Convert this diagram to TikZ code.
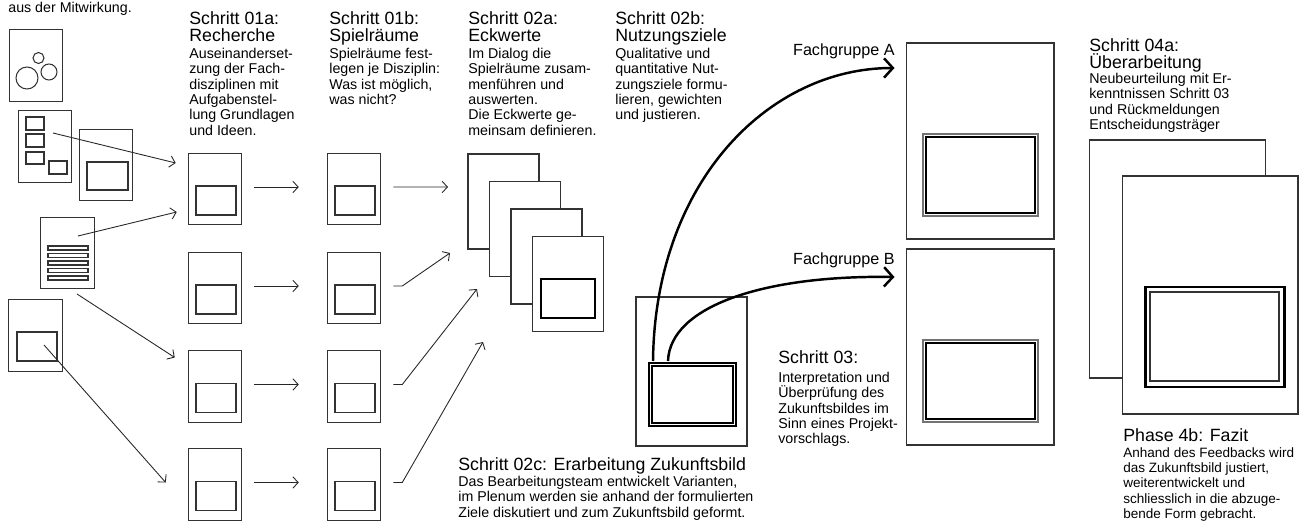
\documentclass[tikz,border=0pt]{standalone}
\usepackage{fontspec}
\setmainfont{Liberation Sans}
\usetikzlibrary{arrows.meta,positioning}

\tikzset{
  linie/.style={draw=black!80, line width=0.6pt},
  blatt/.style={linie, fill=white, inner sep=0pt, minimum width=1.07cm, minimum height=1.43cm},
  stapel/.style={blatt, minimum width=1.42cm, minimum height=1.9cm},
  rahmen/.style={blatt, minimum width=2.22cm, minimum height=2.98cm},
  gross/.style={blatt, minimum width=2.96cm, minimum height=3.92cm},
  fazit/.style={blatt, minimum width=3.52cm, minimum height=4.76cm},
  pfeil/.style={draw=black!85, line width=0.5pt, -{Straight Barb[length=3pt,width=6.5pt]}},
  bogen/.style={draw=black, line width=1.4pt, -{Straight Barb[length=5pt,width=11pt]}},
  kopf/.style={font=\fontsize{10.1}{9.7}\selectfont, align=left, inner sep=0pt, anchor=north west},
  notiz/.style={font=\fontsize{8.1}{8.7}\selectfont, align=left, inner sep=0pt, anchor=north west},
  gruppe/.style={font=\fontsize{9.2}{10}\selectfont, inner sep=0pt, anchor=north east}
}

\begin{document}
\begin{tikzpicture}[x=0.02cm,y=-0.02cm]
\useasboundingbox (0,0) rectangle (1300,523);

% Unterlagen aus der Mitwirkung
\node[notiz] (mit) at (8,2) {aus der Mitwirkung.};
\node[blatt] (d1) at (36,65.5) {};
\draw[linie] ([shift={(2.5,-7.5)}]d1.center) circle (5.5)
  ([shift={(13,6.5)}]d1.center) circle (8)
  ([shift={(-9,12.5)}]d1.center) circle (11);
\node[blatt] (d2) at (45,146.5) {};
\draw[linie] ([shift={(-19,-29.5)}]d2.center) rectangle ([shift={(-1,-16.5)}]d2.center);
\draw[linie] ([shift={(-19,-12.5)}]d2.center) rectangle ([shift={(-1,0.5)}]d2.center);
\draw[linie] ([shift={(-19,5.5)}]d2.center) rectangle ([shift={(-1,17.5)}]d2.center);
\draw[linie] ([shift={(4,14.5)}]d2.center) rectangle ([shift={(22,27.5)}]d2.center);
\node[blatt] (d3) at (106,165) {};
\draw[linie] ([shift={(-19,-3)}]d3.center) rectangle ([shift={(22,25)}]d3.center);
\node[blatt] (d4) at (67.5,253) {};
\foreach \y in {-7,0.5,8,15.5,23}
  \draw[linie] ([shift={(-19.5,\y)}]d4.center) rectangle ([shift={(20.5,\y+4)}]d4.center);
\node[blatt] (d5) at (35.5,335.5) {};
\draw[linie] ([shift={(-18.5,-3.5)}]d5.center) rectangle ([shift={(21.5,25.5)}]d5.center);

% Schritt 01a und 01b
\foreach \r/\y in {1/189,2/288,3/386.5,4/484.5} {
  \node[blatt] (a\r) at (215,\y) {};
  \node[blatt] (b\r) at (354,\y) {};
  \draw[linie] ([shift={(-19,-3)}]a\r.center) rectangle ([shift={(21,26)}]a\r.center);
  \draw[linie] ([shift={(-19,-3)}]b\r.center) rectangle ([shift={(21,26)}]b\r.center);
  \draw[pfeil] ([xshift=0.24cm,yshift=0.04cm]a\r.east) -- ([xshift=-0.56cm,yshift=0.04cm]b\r.west);
}

\draw[pfeil] ([shift={(8,-13.5)}]d2.center) -- ([shift={(-12,-26)}]a1.west);
\draw[pfeil] ([shift={(10.5,-17)}]d4.center) -- ([shift={(-11,23)}]a1.west);
\draw[pfeil] ([shift={(9.5,41)}]d4.center) -- ([shift={(-13,-29)}]a3.west);
\draw[pfeil] ([shift={(8.5,9.5)}]d5.center) -- ([shift={(-22,-2)}]a4.west);

% Schritt 02a
\foreach \i/\x/\y in {1/503.5/201.5,2/525/229,3/546.5/256.5,4/568/284}
  \node[stapel] (p\i) at (\x,\y) {};
\draw[draw=black, line width=1.2pt] ([shift={(-27,-5)}]p4.center) rectangle ([shift={(27,34)}]p4.center);

\coordinate (e1) at (448,187);
\coordinate (e2) at (450,253);
\coordinate (e3) at (477,289);
\coordinate (e4) at (483,342);
\draw[pfeil] ([xshift=0.24cm,yshift=0.04cm]b1.east) -- (e1);
\foreach \r in {2,3,4}
  \draw[pfeil] ([xshift=0.24cm,yshift=0.04cm]b\r.east) -- ++(9,0) -- (e\r);

% Schritt 02c
\node[rahmen] (z) at (691.5,371.5) {};
\draw[draw=black, line width=0.7pt] ([shift={(-42.5,-8.5)}]z.center) rectangle ([shift={(44.5,54.5)}]z.center);
\draw[draw=black, line width=0.6pt] ([shift={(-39.5,-5.5)}]z.center) rectangle ([shift={(41.5,51.5)}]z.center);

% Schritt 03
\node[gross] (fa) at (980,141) {};
\node[gross] (fb) at (980,347) {};
\foreach \f in {fa,fb} {
  \draw[draw=black!55, line width=0.6pt] ([shift={(-57,-7)}]\f.center) rectangle ([shift={(58,75)}]\f.center);
  \draw[draw=black, line width=1.5pt] ([shift={(-54,-4)}]\f.center) rectangle ([shift={(55,72)}]\f.center);
}
\coordinate (zA) at ([shift={(-38.5,-10.5)}]z.center);
\coordinate (zB) at ([shift={(-23.5,-10.5)}]z.center);
\coordinate (fA) at ([shift={(-11,-73)}]fa.west);
\coordinate (fB) at ([shift={(-11,-70)}]fb.west);
\draw[bogen] (zA) .. controls +(2,-180) and +(-125,0) .. (fA);
\draw[bogen] (zB) .. controls +(2,-55) and +(-130,-2) .. (fB);
\node[gruppe] (la) at (895,43) {Fachgruppe A};
\node[gruppe] (lb) at (895,252) {Fachgruppe B};

% Schritt 04
\node[fazit] (g1) at (1177.5,259) {};
\node[fazit] (g2) at (1210,295) {};
\draw[draw=black, line width=1.7pt] ([shift={(-65,-8)}]g2.center) rectangle ([shift={(74,92)}]g2.center);
\draw[linie] ([shift={(-60,-3)}]g2.center) rectangle ([shift={(69,86)}]g2.center);

% Texte
\node[kopf] (k1) at (189,11) {Schritt 01a:\\Recherche};
\node[notiz] (n1) at (189,48) {Auseinanderset-\\zung der Fach-\\disziplinen mit\\Aufgabenstel-\\lung Grundlagen\\und Ideen.};
\node[kopf] (k2) at (329,11) {Schritt 01b:\\Spielräume};
\node[notiz] (n2) at (329,48) {Spielräume fest-\\legen je Disziplin:\\Was ist möglich,\\was nicht?};
\node[kopf] (k3) at (468,11) {Schritt 02a:\\Eckwerte};
\node[notiz] (n3) at (468,48) {Im Dialog die\\Spielräume zusam-\\menführen und\\auswerten.\\Die Eckwerte ge-\\meinsam definieren.};
\node[kopf] (k4) at (615,11) {Schritt 02b:\\Nutzungsziele};
\node[notiz] (n4) at (615,48) {Qualitative und\\quantitative Nut-\\zungsziele formu-\\lieren, gewichten\\und justieren.};
\node[kopf] (k5) at (458,457) {Schritt 02c: Erarbeitung Zukunftsbild};
\node[notiz] (n5) at (458,476) {Das Bearbeitungsteam entwickelt Varianten,\\im Plenum werden sie anhand der formulierten\\Ziele diskutiert und zum Zukunftsbild geformt.};
\node[kopf] (k6) at (778,350) {Schritt 03:};
\node[notiz] (n6) at (778,372) {Interpretation und\\Überprüfung des\\Zukunftsbildes im\\Sinn eines Projekt-\\vorschlags.};
\node[kopf] (k7) at (1089,38) {Schritt 04a:\\Überarbeitung};
\node[notiz] (n7) at (1089,73) {Neubeurteilung mit Er-\\kenntnissen Schritt 03\\und Rückmeldungen\\Entscheidungsträger};
\node[kopf] (k8) at (1123,428) {Phase 4b: Fazit};
\node[notiz, font=\fontsize{7.7}{8.7}\selectfont] (n8) at (1123,447) {Anhand des Feedbacks wird\\das Zukunftsbild justiert,\\weiterentwickelt und\\schliesslich in die abzuge-\\bende Form gebracht.};
\end{tikzpicture}
\end{document}
